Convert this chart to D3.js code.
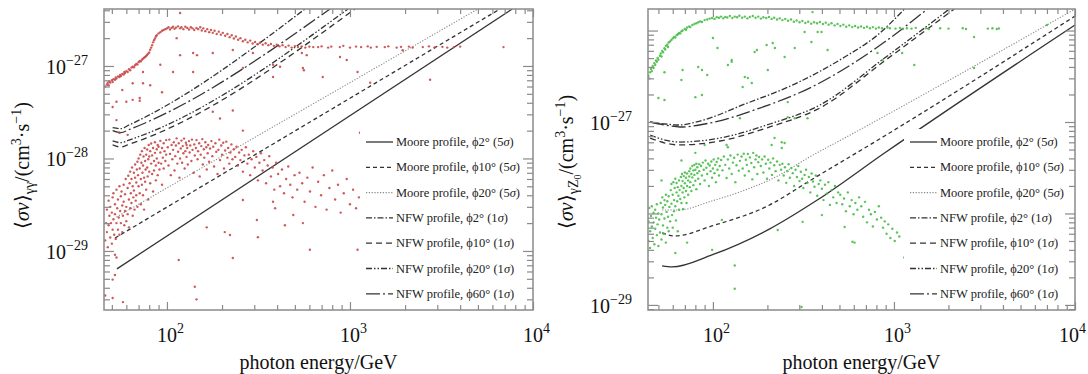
<!DOCTYPE html>
<html>
<head>
<meta charset="utf-8">
<script src="https://cdn.jsdelivr.net/npm/d3@7"></script>
<style>
  body{margin:0;background:#fff;}
  svg{display:block;font-family:"Liberation Serif","Times New Roman",serif;}
</style>
</head>
<body>
<div id="chart"></div>
<script>
// all <σv> values below are in units of 1e-29 cm^3 s^-1, energies in GeV
const UNIT = 1e-29;

// legend entries (same order as the line arrays)
const profiles = ["Moore","Moore","Moore","NFW","NFW","NFW","NFW"];
const angles   = [2, 10, 20, 2, 10, 20, 60];
const sigmas   = [5, 5, 5, 1, 1, 1, 1];

// tick label exponents
const xTickExps      = [2, 3, 4];
const leftYTickExps  = [-27, -28, -29];
const rightYTickExps = [-27, -29];

// ---- left panel (gamma gamma) sensitivity lines, [E, sv]
const leftMoore2  = [[53.3,0.64],[7700,413]];
const leftMoore10 = [[52,1.38],[6600,413]];
const leftMoore20 = [[53,2.33],[5000,413]];
const leftNfw2    = [[50.5,21.5],[56,21],[62,23],[568,413]];
const leftNfw10   = [[50.5,14],[56,13.3],[62,14.2],[1064,413]];
const leftNfw20   = [[50.5,15.5],[56,14.8],[62,15.8],[975,413]];
const leftNfw60   = [[50.5,20],[56,19],[62,20.5],[778,413]];

// ---- right panel (gamma Z0) sensitivity lines
const rightMoore2  = [[52.4,2.67],[59.4,2.6],[98.7,3.52],[206,6.78],[379,14.1],[887,45.8],[10000,1149]];
const rightMoore10 = [[52.4,6.12],[61.8,5.68],[98.7,7.3],[206,12.4],[334,22.1],[887,70.3],[10000,1439]];
const rightMoore20 = [[52.4,10.9],[64.2,10.9],[98.7,13.7],[141,17.2],[228,25.7],[334,40.4],[534,66.8],[10000,1718]];
const rightNfw2    = [[45,100],[54.4,95.1],[64.2,92.7],[84.8,102.5],[150,157],[283,260],[534,513],[811,893],[1143,1718]];
const rightNfw10   = [[45,66.8],[54.4,58.9],[65.8,56.1],[109.3,62],[206,88.2],[389,142],[887,465],[2150,1718]];
const rightNfw20   = [[45,72.1],[54.4,63.5],[65.8,60.4],[109.3,66.8],[206,95.1],[389,153],[887,500],[2023,1718]];
const rightNfw60   = [[45,100],[54.4,92.7],[65.8,88.2],[96.3,97.5],[181.5,142],[342,235],[887,748],[1530,1718]];

// ---- left panel scatter (red)
const leftBand = [[46,60],[47,63],[47.5,66],[48,62],[48.5,68],[49,66],[50,70],[50.5,67],[51,72],[52,71],[52.5,75],[53,73],[54,77],[55,76],[55.5,80],[56,78],[57,82],[58,81],[58.5,86],[59,84],[60,88],[61,86],[62,92],[63,90],[64,96],[65,98],[66,97],[67,102],[68,105],[69,104],[70,110],[71,113],[72,112],[73,117],[74,120],[75,123],[76,125],[77,128],[78,132],[79,136],[80,140],[81,150],[82,158],[83,168],[84,180],[85,190],[86,198],[87,208],[88,215],[90,225],[92,232],[94,240],[96,245],[98,250],
  [100,255],[102,262],[104,248],[106,258],[108,265],[110,252],[112,260],[115,268],[118,255],[120,262],[123,250],[126,265],[129,258],[132,248],[135,262],[138,255],[141,245],[145,258],[148,250],[152,262],[155,242],[158,255],[162,238],[166,250],[170,232],[174,245],[178,228],[182,240],[187,222],[192,235],[197,218],[202,228],[208,212],[214,222],[220,205],[226,215],[232,198],[238,208],[245,192],[252,200],[260,185],[268,192],[276,180],[285,188],[294,175],[303,182],[312,172],[322,178],[334,170],[346,176],[358,168],[370,173],[384,165],[398,170],[412,163],[428,168],[445,160],[462,166],[480,158],[500,164],[520,160],[545,163],[570,158],[600,162],[630,160],
  [670,160],[700,163],[760,158],[790,162],[880,160],[920,165],[1000,158],[1080,162],[1150,160],[1250,163],[1300,158],[1400,161],[1550,160],[1620,163],[1800,158],[1900,161],[2100,162],[2200,158],[2500,160],[2700,163],[2900,159],[3200,161],[3400,158],[3700,160],[4000,162]];

const leftCluster = [[46,1.3],[46.5,2.0],[47,1.6],[47,2.8],[47.5,1.1],[48,3.5],[48,1.9],[48.5,2.4],[49,1.4],[49,3.0],[49.5,2.0],[50,1.2],[50,2.6],[50.5,3.8],[50.5,1.7],
  [51,2.2],[51,4.2],[51.5,1.5],[52,3.2],[52,2.5],[52.5,1.35],[53,4.6],[53,2.0],[53.5,2.9],[54,1.7],[54,3.6],[54.5,2.3],[55,5.0],[55,1.5],[55.5,2.7],[56,3.9],[56,2.0],[56.5,4.4],[57,1.6],[57,3.1],[57.5,2.4],[58,5.2],[58,3.4],[58.5,1.9],[59,4.1],[59,2.7],[59.5,6.0],[60,3.0],[60,2.1],
  [61,4.8],[61,2.5],[61.5,6.5],[62,3.6],[62,1.8],[62.5,5.4],[63,7.2],[63,2.9],[63.5,4.2],[64,3.3],[64,6.0],[64.5,8.0],[65,2.4],[65,5.0],[65.5,3.8],[66,7.0],[66,4.5],[66.5,2.8],[67,6.2],[67,8.6],[67.5,3.5],[68,5.5],[68,4.0],[68.5,7.6],[69,9.2],[69,3.0],[69.5,6.6],[70,5.0],[70,10],
  [71,7.8],[71,4.2],[71.5,11],[72,6.0],[72,3.2],[72.5,9.0],[73,5.2],[73,12],[73.5,7.0],[74,4.0],[74,8.4],[74.5,10.5],[75,6.2],[75,2.8],[75.5,13],[76,9.4],[76,5.6],[76.5,7.6],[77,11],[77,4.6],[78,8.0],[78,12.5],[78.5,6.4],[79,9.8],[79,3.6],[79.5,14],[80,7.2],[80,10.5],
  [81,12],[81,5.4],[82,8.8],[82,14.5],[83,6.8],[83,10.8],[84,4.4],[84,13],[85,9.4],[85,7.4],[86,15],[86,11.5],[87,5.8],[87,8.4],[88,12.6],[88,10],[89,14],[89,6.6],[90,9.0],[90,13.4],[91,7.6],[92,11.6],[92,15.5],[93,8.8],[94,13],[94,5.2],[95,10.2],[96,14.6],[96,7.8],[97,12],[98,9.4],[99,15.8],[99,11],
  [101,13.2],[102,8.4],[103,16],[104,11.2],[105,6.6],[106,14],[107,9.8],[108,12.4],[109,15],[110,7.4],[111,10.6],[112,13.8],[113,16.5],[114,8.8],[115,11.8],[116,14.6],[117,6.2],[118,10],[119,12.8],[120,15.6],[121,9.0],[122,13.6],[123,11.4],[124,16.4],[125,7.8],[126,12],[127,14.8],[128,10.4],[129,13],[130,8.6],
  [132,15.4],[133,11.6],[134,13.8],[136,9.4],[137,16],[138,12.4],[140,7.0],[141,14.2],[142,10.8],[144,13],[145,15.8],[147,9.8],[148,12],[150,14.6],[151,6.4],[153,11],[154,13.6],[156,16.2],[157,8.6],[159,12.6],[160,10.2],[162,15],[164,13.2],[165,7.6],[167,11.4],[168,14],[170,9.2],
  [172,12.8],[175,15.4],[177,10.6],[179,13.4],[181,8.2],[184,14.6],[186,11.8],[189,6.8],[191,12.4],[193,16],[195,9.6],[198,13.8],[200,11],[203,14.8],[205,7.8],[208,12.2],[211,15.2],[214,10.2],[216,13],[219,8.8],[222,11.6],[225,14.2],[228,9.8],
  [232,12.6],[236,10.4],[240,13.4],[244,8.4],[248,11.6],[252,9.6],[256,12.4],[260,7.2],[265,10.8],[270,13.2],[275,8.8],[280,11],[285,6.6],[290,9.8],[296,12],[302,8],[308,10.4],[314,5.8],[320,9],
  [326,11.4],[333,7.4],[340,9.6],[348,5.4],[355,8.4],[362,10.6],[370,6.4],[378,8.0],[386,4.6],[395,9.0],[405,6.8],[415,5.0],[425,7.6],[436,4.2],[448,6.0],[460,8.2],[472,5.2],[485,3.8],[498,6.6],
  [515,4.6],[530,7.0],[548,5.4],[565,3.4],[585,6.2],[605,4.4],[625,8.0],[648,3.0],[670,5.6],[695,4.0],[720,6.6],[745,2.8],[772,4.8],[800,7.4],[830,3.6],[860,5.2],[890,2.6],[925,4.2],[960,6.0],[1000,3.2],[1040,4.6],[1080,2.9],[1120,3.8]];

const leftScatter = [[118,374],[92,103],[81,62],[74,86],[53,41],[60,41],[65,43],[71,45],[50.5,36],[53,26],[178,32],[229,33],[195,27],[260,20],[55,19],[61,18],[113,200],[118,131],[139,138],[229,149],[295,138],[380,103],[415,98],[553,95],[580,131],[380,76],[260,95],[546,138],[560,90],[710,76],[882,125],[960,116],[1290,66],[1100,86],[1940,148],[2740,71],[6900,160],[1134,19],[57,55],[65,65],[74,65],[94,52],[108,86],[139,86],[146,131],[178,138],[71,42],[128,14],
  [46,0.33],[50.5,0.49],[57.5,0.28],[52,0.91],[53,0.85],[116,0.8],[142,0.41],[145,0.30],[229,0.84],[314,1.41],[165,1.8],[207,1.6],[221,1.49],[260,3.56],[310,2.16],[380,3.4],[390,2.9],[441,1.9],[553,2.0],[490,2.45],[604,1.03],[1100,1.03],[52,0.55],[50.5,0.31]];

// ---- right panel scatter (green)
const rightBand = [[44,320],[44.5,300],[45,350],[45.5,380],[46,360],[46.5,410],[47,390],[47.5,440],[48,420],[48.5,470],[49,455],[49.5,500],[50,480],[51,530],[51.5,560],[52,520],[52.5,600],[53,580],[54,640],[54.5,620],[55,680],[56,700],[56.5,660],[57,740],[58,760],[59,790],[60,820],[61,850],[62,840],[63,890],[64,910],[65,940],[66,930],[67,980],[68,1000],[70,1040],[71,1020],[72,1080],[74,1110],[75,1090],[77,1150],[79,1180],[81,1200],[83,1230],[85,1260],[87,1240],[90,1300],[93,1320],[96,1350],[99,1370],[102,1340],
  [105,1400],[108,1380],[111,1420],[114,1360],[117,1410],[120,1390],[124,1440],[128,1370],[132,1420],[136,1400],[140,1450],[145,1380],[150,1420],[155,1360],[160,1410],[166,1440],[172,1380],[178,1420],[184,1350],[190,1400],[197,1370],[204,1410],[211,1340],[218,1380],[226,1320],[234,1360],[242,1300],[251,1340],[260,1280],[270,1320],[280,1250],[290,1290],[301,1230],[312,1270],[324,1210],[336,1250],[349,1190],[362,1230],[376,1200],[390,1240],[405,1180],[420,1220],[436,1160],[452,1200],[470,1140],[488,1180],[506,1120],[525,1160],[545,1100],[566,1140],[588,1090],[610,1120],[634,1080],[658,1110],[683,1070],[710,1100],[737,1060],[765,1090],[795,1050],[825,1080],[860,1060],
  [920,1080],[950,1060],[1020,1050],[1080,1070],[1120,1040],[1180,1060],[1250,1050],[1320,1070],[1500,1060],[1560,1040],[1800,1060],[2000,1050],[2400,1060],[2500,1040],[3300,1050],[3500,1060],[3700,1040],[3800,1055]];

const rightCluster = [[44,5.0],[44,8.2],[44.5,11.5],[45,6.4],[45,4.2],[45.5,9.4],[46,7.2],[46,12],[46.5,5.4],[47,10.2],[47,8.0],[47.5,4.6],[48,6.8],[48,11],[48.5,9.0],[49,5.8],[49,12.6],[49.5,7.6],[50,10],[50,4.4],[50.5,8.6],[51,6.2],
  [51.5,13],[52,9.8],[52,5.2],[52.5,15],[53,7.4],[53,11.6],[53.5,6.0],[54,14],[54,8.8],[54.5,12.4],[55,4.8],[55,16],[55.5,10.4],[56,7.0],[56,13.6],[56.5,9.2],[57,15.4],[57,6.4],[57.5,11.8],[58,8.2],
  [58.5,18],[59,12.8],[59,21],[59.5,9.6],[60,16],[60,7.0],[60.5,22],[61,14],[61,10.6],[61.5,19],[62,12],[62,24],[62.5,8.4],[63,17],[63,21.5],[63.5,13.6],[64,6.4],[64,19.4],[64.5,15.6],[65,23],[65,11],[65.5,18],[66,14.4],
  [66.5,25],[67,20],[67,13],[67.5,27],[68,17],[68,22.6],[68.5,11.2],[69,25.6],[69,19],[69.5,15],[70,28],[70,21.4],[71,17.6],[71,24.6],[71.5,13],[72,27.4],[72,20],[73,23],[73,16],[74,29],[74,25.4],[74.5,19.4],
  [75,31],[75,22],[76,27],[76,17.6],[77,33],[77,24.8],[78,29.6],[78,20.4],[79,34],[79,26.4],[80,30],[80,22.8],[81,35],[81,18.4],[82,27.6],[82,32],[83,24],[84,34.6],[84,29],[85,21],
  [86,33],[87,26],[88,36],[89,30],[90,23],[91,38],[92,31.6],[93,27],[94,35],[95,20],[96,33.4],[97,29],[98,37],[99,24.6],[100,31],[101,39],[102,27.6],[103,34],[104,22],[105,36.6],[106,30],[107,40],[108,26],[109,33],
  [111,38.4],[113,29.6],[115,42],[117,34],[119,24.4],[121,39],[123,31],[125,43],[127,27],[129,36],[131,40.6],[133,22],[135,33.6],[137,44],[139,29.4],[141,37.6],
  [144,42],[146,31],[148,45],[150,26],[152,38.6],[154,34],[156,44.6],[158,29],[160,41],[163,35.6],[165,23.6],[167,46],[169,32],[172,39],[174,43],[176,27],[178,36.4],[180,41.4],
  [184,33],[187,39],[190,28],[193,42],[196,35],[199,24],[202,38.6],[205,31],[208,36],[212,26.4],[215,40],[218,33.6],[222,29],[226,37],[230,23],[234,34],
  [238,30],[242,35],[246,26],[250,32],[254,21.6],[258,29],[262,34.6],[266,24.6],[271,31.4],[276,27.6],[281,20],[286,30],[291,25],[296,33],[301,22.6],
  [306,28.6],[311,24],[316,19],[321,26.4],[327,30],[333,21.6],[339,25],[345,17],[351,27.4],[357,22.4],[364,19.6],[370,26],[377,15.6],[384,21],
  [392,23],[400,18.6],[408,14],[416,20.6],[425,16.4],[434,22],[443,12.4],[452,18],[462,15],[472,20],[482,13],[492,17],
  [505,16],[518,12.6],[530,14.6],[543,10.6],[556,17],[570,12],[584,14],[598,9.8],[612,13],[628,11],[642,15],
  [660,12],[676,9.2],[692,13.4],[710,8],[728,11],[746,9.8],[765,7.2],[785,10.4],[805,8.6],[825,12],
  [850,9],[870,7],[890,8.2],[910,6],[930,7.6],[955,5.4],[980,6.8],[1010,5],[1040,6.2],[1070,5.6]];

const rightScatter = [[54,350],[68,370],[83,400],[93,326],[100,830],[106,645],[121,420],[127,476],[150,310],[175,612],[198,694],[214,730],[249,513],[283,645],[321,964],[350,748],[379,964],[87,197],[80,187],[54,174],[50,183],[146,241],[164,267],[201,370],[259,165],[333,110],[259,113],[219,67],[240,60],[90,56],[119,56],[211,56],[67,288],[87,370],[127,455],[170,582],[220,645],[156,303],[283,110],[398,964],[141,110],[67,38],[62,3.7],[72,4.8],[99,4.0],[132,2.7],[132,1.5],[240,52],[228,6.6],[313,8.1],[534,7.1],[606,4.8],[112,8.5],[52,23],[80,46],[121,53],[249,59],[309,0.95],[590,4.9],[1140,3.3],[400,9.6],[430,612],[811,568],[866,476],[1110,568],[1295,420],[2770,850],[2770,390],[7000,1150],[355,1590]];

// line styles, one per legend entry
const lineDash  = ["", "4,3", "1.2,1.6", "6,2,1.5,2", "6,4", "6,2,1.5,2,1.5,2", "14,3,2,3"];
const lineColor = ["#333", "#333", "#888", "#333", "#333", "#333", "#333"];

const W = 1088, H = 374;
const svg = d3.select('#chart').append('svg')
  .attr('width', W).attr('height', H);

// helper: decade and sub-decade tick values inside a log domain
function logTicks(domain){
  const out = [];
  const lo = Math.floor(Math.log10(domain[0])), hi = Math.ceil(Math.log10(domain[1]));
  for(let d = lo; d <= hi; d++){
    for(let k = 1; k < 10; k++){
      const v = k * Math.pow(10, d);
      if(v >= domain[0] * 0.999 && v <= domain[1] * 1.001) out.push({v, major: k === 1});
    }
  }
  return out;
}

function drawPanel(cfg){
  const {x0, x1, y0, y1} = cfg.box;
  const x = d3.scaleLog().domain(cfg.xDomain).range([x0, x1]);
  const y = d3.scaleLog().domain(cfg.yDomain).range([y1, y0]);
  const g = svg.append('g').classed('panel ' + cfg.id, true);

  // clip to frame
  g.append('clipPath').attr('id', 'clip-' + cfg.id)
    .append('rect').attr('x', x0).attr('y', y0).attr('width', x1 - x0).attr('height', y1 - y0);
  const plot = g.append('g').attr('clip-path', `url(#clip-${cfg.id})`);

  // sensitivity lines
  const lineGen = d3.line()
    .x(d => x(d[0]))
    .y(d => y(d[1] * UNIT))
    .curve(d3.curveMonotoneX);
  plot.selectAll('path.sens')
    .data(cfg.lines)
    .join('path')
    .classed('sens', true)
    .attr('d', lineGen)
    .attr('fill', 'none')
    .attr('stroke', (d, i) => lineColor[i])
    .attr('stroke-width', (d, i) => i === 2 ? 1.1 : 1.3)
    .attr('stroke-dasharray', (d, i) => lineDash[i]);

  // model points
  plot.selectAll('circle.pt')
    .data(cfg.points)
    .join('circle')
    .classed('pt', true)
    .attr('cx', d => x(d[0]))
    .attr('cy', d => y(d[1] * UNIT))
    .attr('r', 1.2)
    .attr('fill', cfg.color)
    .attr('fill-opacity', 0.9);

  // legend (white box hides the lines behind it)
  const lg = g.append('g').classed('legend', true);
  lg.append('rect')
    .attr('x', cfg.legend.x - 6).attr('y', cfg.legend.y - 13)
    .attr('width', 168).attr('height', 178)
    .attr('fill', '#fff');
  const rows = lg.selectAll('g.row')
    .data(profiles.map((p, i) => i))
    .join('g')
    .classed('row', true)
    .attr('transform', i => `translate(${cfg.legend.x},${cfg.legend.y + i * 25.3})`);
  rows.append('line')
    .attr('x1', 0).attr('x2', 27)
    .attr('stroke', i => lineColor[i])
    .attr('stroke-width', i => i === 2 ? 1.1 : 1.3)
    .attr('stroke-dasharray', i => lineDash[i]);
  rows.append('text')
    .attr('x', 30).attr('y', 4)
    .attr('font-size', 12.5)
    .attr('fill', '#222')
    .each(function(i){
      const t = d3.select(this);
      t.append('tspan').text(`${profiles[i]} profile, ϕ${angles[i]}° (${sigmas[i]}`);
      t.append('tspan').attr('font-style', 'italic').text('σ');
      t.append('tspan').text(')');
    });

  // ticks, pointing inward on all four sides
  const xt = logTicks(cfg.xDomain), yt = logTicks(cfg.yDomain);
  const tickCol = '#8a8a8a';
  const axes = [
    [d3.axisBottom(x), `translate(0,${y1})`, xt, -8, -5],
    [d3.axisTop(x),    `translate(0,${y0})`, xt, -8, -5],
    [d3.axisLeft(y),   `translate(${x0},0)`, yt, -10, -6],
    [d3.axisRight(y),  `translate(${x1},0)`, yt, -10, -6]
  ];
  axes.forEach(([ax, tr, ticks, big, small]) => {
    [true, false].forEach(major => {
      g.append('g')
        .attr('transform', tr)
        .attr('color', tickCol)
        .call(ax.tickValues(ticks.filter(t => t.major === major).map(t => t.v))
          .tickSize(major ? big : small).tickSizeOuter(0).tickFormat(''))
        .call(a => a.select('.domain').remove())
        .call(a => a.selectAll('line').attr('stroke-width', 1.2));
    });
  });

  g.append('rect')
    .attr('x', x0).attr('y', y0).attr('width', x1 - x0).attr('height', y1 - y0)
    .attr('fill', 'none').attr('stroke', tickCol).attr('stroke-width', 1.5);

  // tick labels (the last one is kept inside the page)
  g.selectAll('text.xl')
    .data(xTickExps)
    .join('text')
    .classed('xl', true)
    .attr('x', d => Math.min(x(Math.pow(10, d)) - 10, W - 29))
    .attr('y', 342)
    .attr('font-size', 20)
    .attr('fill', '#111')
    .each(function(d){
      const t = d3.select(this);
      t.append('tspan').text('10');
      t.append('tspan').attr('dy', -9).attr('font-size', 14).text(d);
    });
  g.selectAll('text.yl')
    .data(cfg.yExps)
    .join('text')
    .classed('yl', true)
    .attr('x', x0 - 16)
    .attr('y', d => y(Math.pow(10, d)) + 8)
    .attr('text-anchor', 'end')
    .attr('font-size', 20)
    .attr('fill', '#111')
    .each(function(d){
      const t = d3.select(this);
      t.append('tspan').text('10');
      t.append('tspan').attr('dy', -9).attr('font-size', 14).text('−' + Math.abs(d));
    });

  // axis titles
  g.append('text')
    .attr('x', (x0 + x1) / 2).attr('y', 369)
    .attr('text-anchor', 'middle')
    .attr('font-size', 20)
    .attr('fill', '#111')
    .text('photon energy/GeV');

  const yt2 = g.append('text')
    .attr('transform', `translate(${cfg.titleX},229) rotate(-90)`)
    .attr('font-size', 20)
    .attr('fill', '#111');
  yt2.append('tspan').text('⟨');
  yt2.append('tspan').attr('font-style', 'italic').text('σv');
  yt2.append('tspan').text('⟩');
  cfg.sub.forEach(([txt, dy, fs]) => {
    yt2.append('tspan').attr('dy', dy).attr('font-size', fs).text(txt);
  });
  yt2.append('tspan').attr('dy', cfg.subReset).text('/(cm');
  yt2.append('tspan').attr('dy', -8).attr('font-size', 14).text('3');
  yt2.append('tspan').attr('dy', 8).text('·s');
  yt2.append('tspan').attr('dy', -8).attr('font-size', 14).text('−1');
  yt2.append('tspan').attr('dy', 8).text(')');
}

drawPanel({
  id: 'left',
  box: {x0: 104, x1: 533, y0: 9, y1: 310},
  xDomain: [45.3, 1e4],
  yDomain: [2.3e-30, 4.13e-27],
  lines: [leftMoore2, leftMoore10, leftMoore20, leftNfw2, leftNfw10, leftNfw20, leftNfw60],
  points: leftBand.concat(leftCluster, leftScatter),
  color: '#c84848',
  yExps: leftYTickExps,
  legend: {x: 366, y: 142},
  titleX: 29,
  sub: [['γγ', 5, 14]],
  subReset: -5
});

drawPanel({
  id: 'right',
  box: {x0: 648, x1: 1075, y0: 9, y1: 310},
  xDomain: [43.8, 1e4],
  yDomain: [8.8e-30, 1.72e-26],
  lines: [rightMoore2, rightMoore10, rightMoore20, rightNfw2, rightNfw10, rightNfw20, rightNfw60],
  points: rightBand.concat(rightCluster, rightScatter),
  color: '#48bd48',
  yExps: rightYTickExps,
  legend: {x: 910, y: 142},
  titleX: 573,
  sub: [['γZ', 5, 14], ['0', 3, 10]],
  subReset: -8
});
</script>
</body>
</html>
